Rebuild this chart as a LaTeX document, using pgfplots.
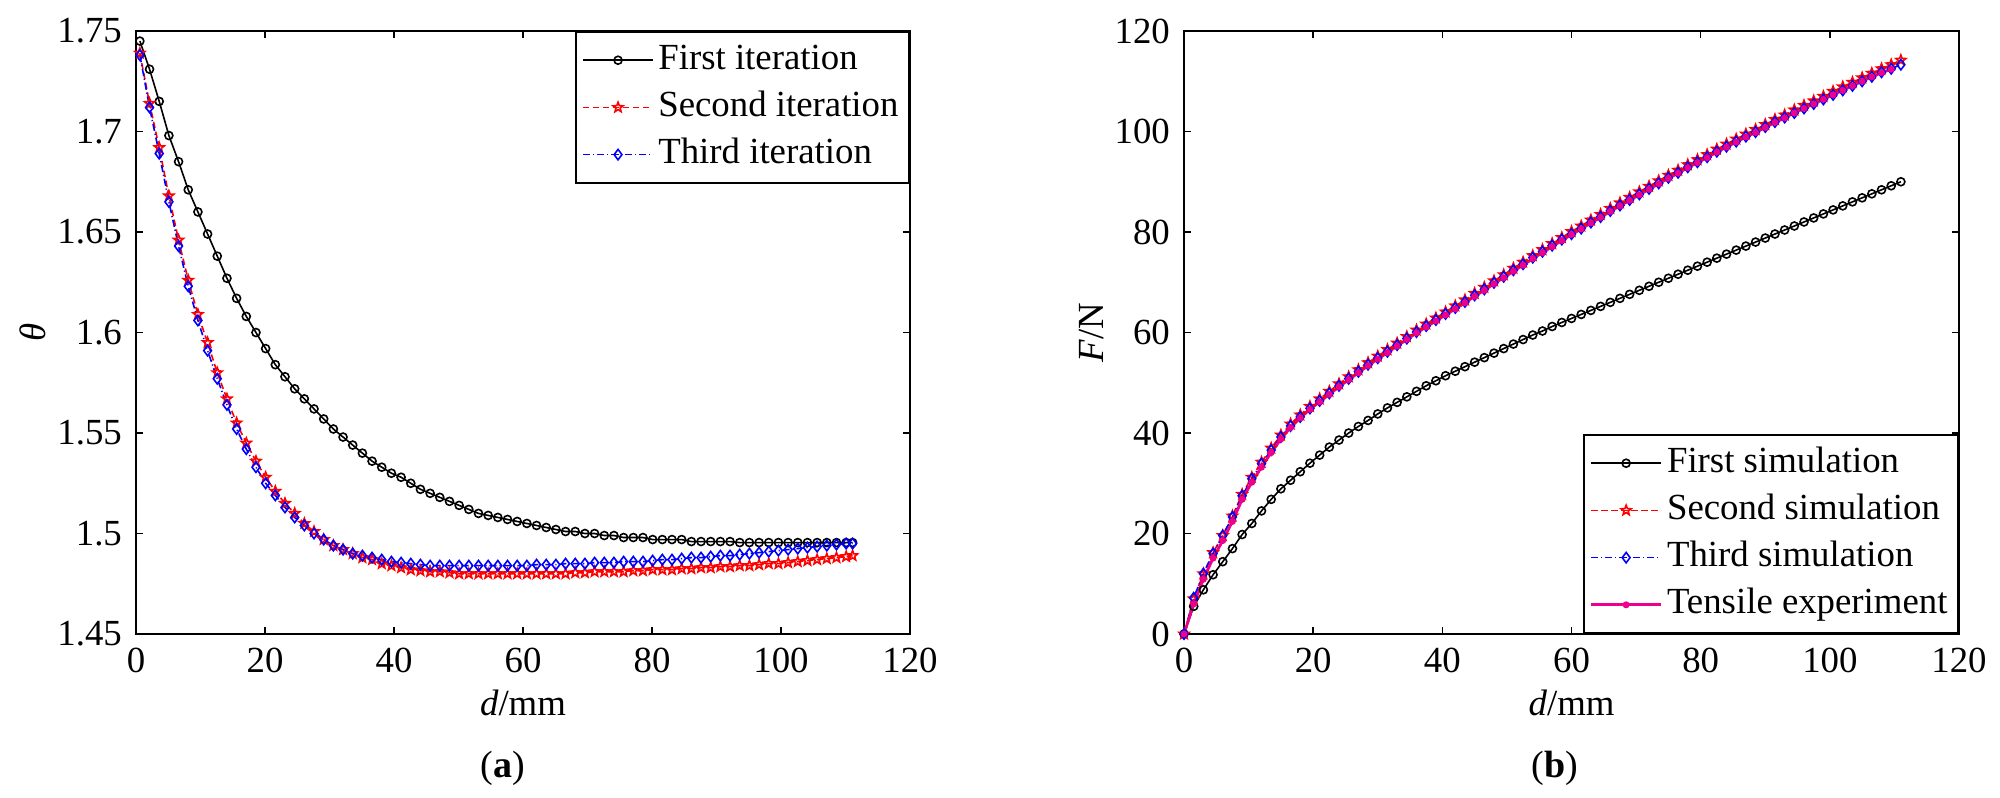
\documentclass[border=0pt]{standalone}
\usepackage{fontspec}
\setmainfont{Liberation Serif}
\usepackage{pgfplots}
\usepackage{pgfplotstable}
\pgfplotsset{compat=1.18}

\pgfdeclareplotmark{pentagram}{%
 \pgfpathmoveto{\pgfpointpolar{90}{\pgfplotmarksize}}%
 \pgfpathlineto{\pgfpointpolar{126}{0.42\pgfplotmarksize}}%
 \pgfpathlineto{\pgfpointpolar{162}{\pgfplotmarksize}}%
 \pgfpathlineto{\pgfpointpolar{198}{0.42\pgfplotmarksize}}%
 \pgfpathlineto{\pgfpointpolar{234}{\pgfplotmarksize}}%
 \pgfpathlineto{\pgfpointpolar{270}{0.42\pgfplotmarksize}}%
 \pgfpathlineto{\pgfpointpolar{306}{\pgfplotmarksize}}%
 \pgfpathlineto{\pgfpointpolar{342}{0.42\pgfplotmarksize}}%
 \pgfpathlineto{\pgfpointpolar{18}{\pgfplotmarksize}}%
 \pgfpathlineto{\pgfpointpolar{54}{0.42\pgfplotmarksize}}%
 \pgfpathclose\pgfusepathqstroke}

\pgfplotstableread{
x f s t
0.6 1.745 1.739 1.738
2.1 1.731 1.714 1.712
3.6 1.715 1.692 1.689
5.1 1.698 1.668 1.665
6.6 1.685 1.646 1.643
8.1 1.671 1.626 1.623
9.6 1.660 1.609 1.606
11.1 1.649 1.595 1.591
12.6 1.638 1.580 1.577
14.1 1.627 1.567 1.564
15.6 1.617 1.555 1.552
17.1 1.608 1.545 1.542
18.6 1.600 1.536 1.533
20.1 1.592 1.528 1.525
21.6 1.584 1.521 1.519
23.1 1.578 1.515 1.513
24.6 1.572 1.510 1.508
26.1 1.567 1.505 1.504
27.6 1.562 1.501 1.500
29.1 1.557 1.497 1.497
30.6 1.552 1.494 1.494
32.1 1.548 1.492 1.492
33.6 1.544 1.490 1.490
35.1 1.540 1.488 1.489
36.6 1.536 1.487 1.488
38.1 1.533 1.485 1.487
39.6 1.530 1.484 1.486
41.1 1.528 1.483 1.4855
42.6 1.525 1.482 1.485
44.1 1.522 1.4815 1.4845
45.6 1.520 1.481 1.484
47.1 1.518 1.481 1.484
48.6 1.516 1.4805 1.484
50.1 1.514 1.480 1.484
51.6 1.512 1.480 1.484
53.1 1.510 1.480 1.484
54.6 1.509 1.480 1.484
56.1 1.508 1.480 1.484
57.6 1.507 1.480 1.484
59.1 1.506 1.480 1.484
60.6 1.505 1.480 1.484
62.1 1.504 1.480 1.4845
63.6 1.503 1.480 1.4845
65.1 1.502 1.480 1.4845
66.6 1.501 1.480 1.485
68.1 1.501 1.4805 1.485
69.6 1.500 1.4805 1.485
71.1 1.500 1.481 1.4855
72.6 1.499 1.481 1.4855
74.1 1.499 1.481 1.4855
75.6 1.498 1.481 1.486
77.1 1.498 1.4815 1.486
78.6 1.498 1.4815 1.486
80.1 1.497 1.482 1.4865
81.6 1.497 1.482 1.487
83.1 1.497 1.482 1.487
84.6 1.497 1.4825 1.4875
86.1 1.496 1.4825 1.488
87.6 1.496 1.483 1.488
89.1 1.496 1.483 1.4885
90.6 1.496 1.4835 1.489
92.1 1.496 1.4835 1.489
93.6 1.4955 1.484 1.4895
95.1 1.4955 1.484 1.490
96.6 1.4955 1.4845 1.4905
98.1 1.4955 1.485 1.491
99.6 1.4955 1.485 1.4915
101.1 1.4955 1.4855 1.492
102.6 1.4955 1.486 1.4925
104.1 1.4955 1.4865 1.493
105.6 1.4955 1.487 1.4935
107.1 1.4955 1.4875 1.494
108.6 1.4955 1.488 1.4945
110.1 1.4955 1.4885 1.495
111.1 1.4955 1.489 1.495
}\tableA

\pgfplotstableread{
x f s t e
0 0 0 0 0
1.5 5.5 7.0 7.2 6.0
3 8.8 12.0 12.0 10.9
4.5 11.8 16.2 16.0 15.1
6 14.4 19.6 19.6 18.6
7.5 17.0 23.5 23.3 22.4
9 19.8 27.8 27.5 26.8
10.5 22.0 31.2 30.9 30.2
12 24.5 34.2 33.9 33.2
13.5 26.8 37.0 36.6 36.1
15 28.9 39.6 39.2 38.8
16.5 30.6 41.8 41.4 41.1
18 32.3 43.6 43.2 43.0
19.5 34.0 45.3 44.9 44.7
21 35.6 46.8 46.4 46.2
22.5 37.2 48.3 47.9 47.7
24 38.6 49.8 49.4 49.2
25.5 40.0 51.2 50.8 50.6
27 41.3 52.6 52.2 52.0
28.5 42.5 54.0 53.6 53.4
30 43.8 55.3 54.9 54.7
31.5 45.0 56.6 56.2 56.0
33 46.1 57.9 57.5 57.3
34.5 47.2 59.2 58.8 58.6
36 48.3 60.5 60.1 59.9
37.5 49.4 61.7 61.3 61.1
39 50.4 62.9 62.5 62.3
40.5 51.4 64.1 63.7 63.5
42 52.3 65.3 64.9 64.7
43.5 53.2 66.5 66.1 65.9
45 54.1 67.8 67.4 67.2
46.5 55.0 69.0 68.6 68.4
48 55.9 70.3 69.9 69.7
49.5 56.8 71.5 71.1 70.9
51 57.7 72.8 72.4 72.2
52.5 58.6 74.0 73.6 73.4
54 59.5 75.3 74.9 74.7
55.5 60.3 76.5 76.1 75.9
57 61.2 77.7 77.3 77.1
58.5 62.0 78.9 78.5 78.3
60 62.8 80.1 79.6 79.5
61.5 63.6 81.2 80.7 80.6
63 64.4 82.4 81.9 81.8
64.5 65.2 83.5 83.0 82.9
66 66.0 84.7 84.2 84.1
67.5 66.8 85.8 85.3 85.2
69 67.6 86.9 86.4 86.3
70.5 68.4 88.0 87.5 87.4
72 69.2 89.1 88.6 88.5
73.5 70.0 90.2 89.7 89.6
75 70.8 91.3 90.8 90.7
76.5 71.6 92.3 91.8 91.7
78 72.4 93.4 92.9 92.8
79.5 73.2 94.4 93.9 93.8
81 74.0 95.4 94.9 94.8
82.5 74.8 96.5 96.0 95.9
84 75.6 97.5 97.0 96.9
85.5 76.4 98.5 98.0 97.9
87 77.2 99.5 99.0 98.9
88.5 78.0 100.4 99.9 99.8
90 78.8 101.4 100.9 100.8
91.5 79.6 102.4 101.9 101.8
93 80.4 103.3 102.8 102.7
94.5 81.2 104.3 103.7 103.7
96 82.0 105.2 104.6 104.6
97.5 82.8 106.1 105.5 105.5
99 83.6 107.0 106.4 106.4
100.5 84.4 108.0 107.3 107.3
102 85.2 108.9 108.2 108.2
103.5 86.0 109.8 109.1 109.1
105 86.8 110.7 110.0 110.0
106.5 87.6 111.6 110.9 110.9
108 88.4 112.5 111.8 111.7
109.5 89.2 113.3 112.5 112.4
111 90.0 114.2 113.3 nan
}\tableB

\newcommand{\myfs}{\fontsize{9.2}{11}\selectfont}

\pgfplotsset{
  myax/.style={
    scale only axis,
    anchor=south west,
    xmin=0, xmax=120, xtick={0,20,40,60,80,100,120},
    tick align=inside,
    major tick length=1.75pt,
    tick style={black, line width=0.4pt},
    axis line style={line width=0.5pt},
    every tick label/.append style={font=\myfs},
    /pgf/number format/assume math mode=true,
    label style={font=\myfs},
    xlabel style={at={(axis description cs:0.5,0)}, anchor=center, yshift=-17.25pt},
    legend cell align=left,
    legend style={font=\myfs, draw=black, line width=0.5pt, inner xsep=1.5pt, inner ysep=1.15pt,
      nodes={inner xsep=1.125pt, inner ysep=1.15pt, text height=0.7em, text depth=0.25em},
      row sep=0pt},
    legend image code/.code={\draw[mark repeat=2,mark phase=2,##1] plot coordinates {(0pt,0pt) (8.75pt,0pt) (17.5pt,0pt)};},
  },
  s1/.style={black, line width=0.4pt, mark=o, mark size=1pt, mark options={solid, line width=0.4pt}},
  s2/.style={red, line width=0.4pt, dash pattern=on 1.6pt off 0.9pt, mark=pentagram, mark size=1.3pt, mark options={solid, line width=0.4pt}},
  s3/.style={blue, line width=0.4pt, dash pattern=on 1.8pt off 0.7pt on 0.3pt off 0.7pt, mark=diamond, mark size=1.3pt, mark options={solid, line width=0.4pt}},
  s4/.style={magenta, line width=0.7pt, mark=*, mark size=0.5pt, mark options={solid}},
}

\begin{document}
\begin{tikzpicture}
\path[use as bounding box] (0,0) rectangle (500pt,199.25pt);

\begin{axis}[myax, at={(34pt,40.75pt)}, width=193.5pt, height=150.75pt,
  ymin=1.45, ymax=1.75, ytick={1.45,1.5,1.55,1.6,1.65,1.7,1.75},
  xlabel={\textit{d}/mm}, ylabel={\textit{θ}},
  ylabel style={at={(axis description cs:0,0.5)}, anchor=center, yshift=25.75pt},
  legend style={at={(1,1)}, anchor=north east}]
\addplot[s1] table[x=x, y=f] {\tableA};
\addplot[s2] table[x=x, y=s] {\tableA};
\addplot[s3] table[x=x, y=t] {\tableA};
\legend{First iteration, Second iteration, Third iteration}
\end{axis}

\begin{axis}[myax, at={(296pt,40.75pt)}, width=193.75pt, height=150.75pt,
  ymin=0, ymax=120, ytick={0,20,40,60,80,100,120},
  xlabel={\textit{d}/mm}, ylabel={\textit{F}/N},
  ylabel style={at={(axis description cs:0,0.5)}, anchor=center, yshift=23pt},
  legend style={at={(1,0)}, anchor=south east}]
\addplot[s1] table[x=x, y=f] {\tableB};
\addplot[s2] table[x=x, y=s] {\tableB};
\addplot[s3] table[x=x, y=t] {\tableB};
\addplot[s4] table[x=x, y=e] {\tableB};
\legend{First simulation, Second simulation, Third simulation, Tensile experiment}
\end{axis}

\node[font=\fontsize{9.5}{11}\selectfont] at (125.75pt,7.25pt) {(\textbf{a})};
\node[font=\fontsize{9.5}{11}\selectfont] at (388.75pt,7.25pt) {(\textbf{b})};
\end{tikzpicture}
\end{document}
